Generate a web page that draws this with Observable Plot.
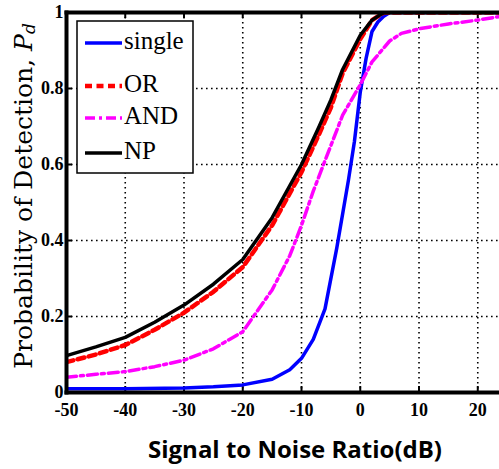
<!DOCTYPE html>
<html><head><meta charset="utf-8">
<script src="https://cdn.jsdelivr.net/npm/d3@7"></script>
<script src="https://cdn.jsdelivr.net/npm/@observablehq/plot@0.6"></script>
<style>
body{margin:0;background:#fff;}
#wrap{position:relative;width:499px;height:469px;overflow:hidden;}
</style>
</head><body><div id="wrap"></div>
<script>
const seriesNames = ["single","OR","AND","NP"];
const seriesColors = ["#0000ff","#ff0000","#ff00ff","#000000"];
const xTicks = [-50,-40,-30,-20,-10,0,10,20];
const yTicks = [0,0.2,0.4,0.6,0.8,1];

const singleX = [-50,-40,-30,-25,-20,-15,-12,-10,-8,-6,-4,-2,-1,0,1,2,3,4,5,24];
const singleY = [0.01,0.01,0.012,0.015,0.02,0.035,0.06,0.09,0.14,0.22,0.38,0.56,0.66,0.79,0.88,0.95,0.975,0.99,1.0,1.0];
const orX = [-50,-45,-40,-35,-30,-25,-20,-15,-10,-7,-5,-3,0,2,4,24];
const orY = [0.08,0.10,0.125,0.165,0.21,0.265,0.33,0.44,0.58,0.68,0.75,0.84,0.93,0.98,1.0,1.0];
const andX = [-50,-45,-40,-35,-30,-25,-20,-15,-12,-10,-8,-5,-3,0,2,5,7,10,15,20,24];
const andY = [0.04,0.048,0.055,0.068,0.085,0.115,0.16,0.27,0.36,0.44,0.53,0.65,0.73,0.81,0.87,0.925,0.945,0.957,0.97,0.98,0.99];
const npX = [-50,-45,-40,-35,-30,-25,-20,-15,-10,-7,-5,-3,0,2,4,24];
const npY = [0.097,0.12,0.145,0.185,0.23,0.285,0.35,0.46,0.6,0.7,0.77,0.85,0.94,0.98,1.0,1.0];

const toRows = (xs, ys) => xs.map((x,i)=>({x, y: ys[i]}));
const single = toRows(singleX, singleY);
const orD = toRows(orX, orY);
const andD = toRows(andX, andY);
const np = toRows(npX, npY);

const W = 499, H = 469, mL = 66, mR = 0, mT = 12, mB = 77;
const innerW = W - mL - mR, innerH = H - mT - mB;
const tickLen = 6;
const serif = "'Liberation Serif','Times New Roman',serif";

const chart = Plot.plot({
  width: W, height: H,
  marginLeft: mL, marginRight: mR, marginTop: mT, marginBottom: mB,
  style: {background: "#fff", overflow: "hidden"},
  x: {domain: [-50, 23.7], clamp: false},
  y: {domain: [0, 1]},
  marks: [
    Plot.ruleX(xTicks.filter(d=>d>-50), {stroke: "#000", strokeWidth: 1.6, strokeDasharray: "1.6,3.4", strokeOpacity: 1}),
    Plot.ruleY(yTicks.filter(d=>d>0 && d<1), {stroke: "#000", strokeWidth: 1.6, strokeDasharray: "1.6,3.4", strokeOpacity: 1}),
    Plot.axisX({ticks: xTicks, tickSize: 0, tickPadding: 11, fontSize: 18, fontWeight: "bold", fontFamily: serif, tickFormat: d=>String(d), label: null}),
    Plot.axisY({ticks: yTicks, tickSize: 0, tickPadding: 3, fontSize: 18, fontWeight: "bold", fontFamily: serif, tickFormat: d=>String(d), label: null}),
    Plot.ruleX(xTicks, {stroke: "#000", strokeWidth: 2, insetTop: innerH - tickLen}),
    Plot.ruleX(xTicks, {stroke: "#000", strokeWidth: 2, insetBottom: innerH - tickLen}),
    Plot.ruleY(yTicks, {stroke: "#000", strokeWidth: 2, insetRight: innerW - tickLen}),
    Plot.line(single, {x: "x", y: "y", stroke: seriesColors[0], strokeWidth: 3.5, clip: true}),
    Plot.line(andD, {x: "x", y: "y", stroke: seriesColors[2], strokeWidth: 3.5, strokeDasharray: "10,4,3,4", clip: true}),
    Plot.line(orD, {x: "x", y: "y", stroke: seriesColors[1], strokeWidth: 4.5, strokeDasharray: "7,4.5", clip: true}),
    Plot.line(np, {x: "x", y: "y", stroke: seriesColors[3], strokeWidth: 3.5, clip: true}),
    Plot.frame({stroke: "#000", strokeWidth: 4, anchor: "left"}),
    Plot.frame({stroke: "#000", strokeWidth: 4, anchor: "top"}),
    Plot.frame({stroke: "#000", strokeWidth: 4, anchor: "bottom"})
  ]
});
document.getElementById("wrap").appendChild(chart);

const svg = d3.select(chart);
svg.append("text")
  .attr("x", 295).attr("y", 452)
  .attr("text-anchor", "middle").attr("dominant-baseline", "middle")
  .attr("font-family", "'Open Sans','DejaVu Sans',sans-serif")
  .attr("font-weight", "bold").attr("font-size", 24)
  .attr("fill", "#000")
  .text("Signal to Noise Ratio(dB)");
const yl = svg.append("text")
  .attr("transform", "translate(25,196) rotate(-90)")
  .attr("text-anchor", "middle").attr("dominant-baseline", "middle")
  .attr("font-family", "'DejaVu Serif',serif")
  .attr("font-size", 25).attr("fill", "#000");
yl.append("tspan").text("Probability of Detection, ");
yl.append("tspan").attr("font-style", "italic").text("P");
yl.append("tspan").attr("font-style", "italic").attr("font-size", 17).attr("dy", 5).text("d");

// legend
const lg = svg.append("g").attr("transform", "translate(77,21)");
lg.append("rect").attr("width", 116).attr("height", 152).attr("fill", "#fff").attr("stroke", "#000").attr("stroke-width", 1.5);
const dashes = [null, "7,4.5", "10,4,3,4", null];
const widths = [3.5, 4.5, 3.5, 3.5];
const ys = [22, 65, 97, 132];
seriesNames.forEach((n, i) => {
  lg.append("line").attr("x1", 8).attr("x2", 45).attr("y1", ys[i]).attr("y2", ys[i])
    .attr("stroke", seriesColors[i]).attr("stroke-width", widths[i])
    .attr("stroke-dasharray", dashes[i]);
  lg.append("text").attr("x", 47).attr("y", ys[i]).attr("dominant-baseline", "middle")
    .attr("text-anchor", "start")
    .attr("font-family", serif)
    .attr("font-size", 25).attr("fill", "#000").text(n);
});
</script></body></html>
